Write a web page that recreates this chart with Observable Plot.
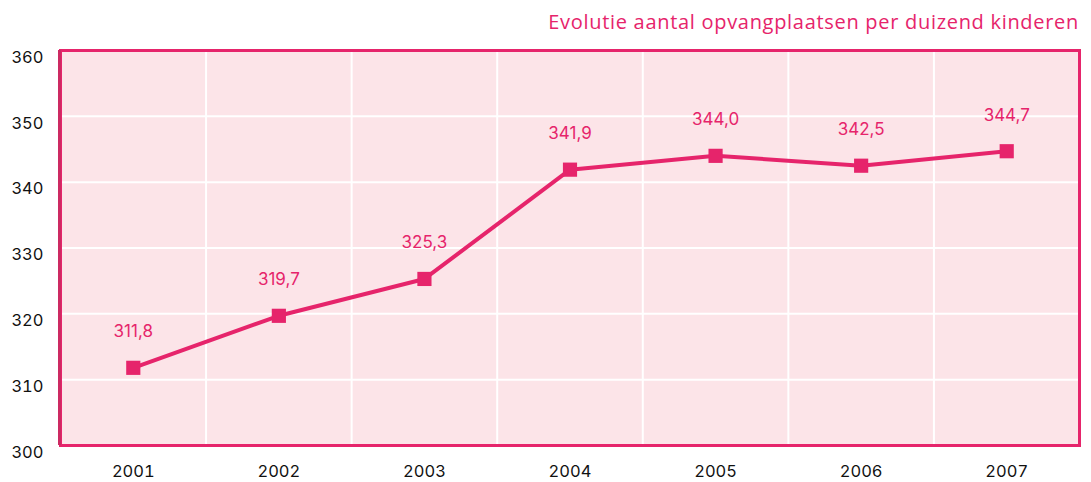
<!DOCTYPE html>
<html>
<head>
<meta charset="utf-8">
<script src="https://cdn.jsdelivr.net/npm/d3@7"></script>
<script src="https://cdn.jsdelivr.net/npm/@observablehq/plot@0.6"></script>
<style>
  html, body { margin: 0; padding: 0; background: #fff; }
  #title { height: 44px; width: 1091px; box-sizing: border-box; padding-right: 12px; text-align: right;
    font-family: "Open Sans", sans-serif; font-size: 20px; letter-spacing: 0.7px; color: #e6246b; line-height: 44px; }
</style>
</head>
<body>
<div id="title">Evolutie aantal opvangplaatsen per duizend kinderen</div>
<div id="chart"></div>
<script>
const years = [2001, 2002, 2003, 2004, 2005, 2006, 2007];
const values = [311.8, 319.7, 325.3, 341.9, 344.0, 342.5, 344.7];
const yTicks = [300, 310, 320, 330, 340, 350, 360];

const data = years.map((year, i) => ({year, value: values[i]}));
const pink = "#e6246b";
const fmt = v => v.toFixed(1).replace(".", ",");

const plot = Plot.plot({
  width: 1091,
  height: 438,
  marginLeft: 60,
  marginRight: 12,
  marginTop: 6,
  marginBottom: 37,
  style: {fontFamily: "Inter, sans-serif", color: "#111", background: "transparent"},
  x: {domain: [years[0] - 0.5, years[years.length - 1] + 0.5], label: null},
  y: {domain: [yTicks[0], yTicks[yTicks.length - 1]], label: null},
  marks: [
    Plot.frame({fill: "#fce4e8", stroke: "none"}),
    Plot.ruleY(yTicks.slice(1, -1), {stroke: "#fff", strokeWidth: 2}),
    Plot.ruleX(years.slice(1), {x: d => d - 0.5, stroke: "#fff", strokeWidth: 2}),
    Plot.frame({stroke: pink, strokeWidth: 3}),
    Plot.ruleX([years[0] - 0.5], {stroke: "#cc2a62", strokeWidth: 3, dx: -1}),
    Plot.axisY({ticks: yTicks, tickSize: 0, tickPadding: 17, dy: 7, fontSize: 16.5, label: null, tickFormat: d => String(d)}),
    Plot.axisX({ticks: years, tickSize: 0, tickPadding: 20, fontSize: 16.5, label: null, tickFormat: d => String(d)}),
    Plot.line(data, {x: "year", y: "value", stroke: pink, strokeWidth: 4}),
    Plot.dot(data, {x: "year", y: "value", symbol: "square", r: 8, fill: pink, stroke: "none"}),
    Plot.text(data, {x: "year", y: "value", text: d => fmt(d.value), dy: -36, fill: pink, fontSize: 17})
  ]
});
document.getElementById("chart").append(plot);
</script>
</body>
</html>
